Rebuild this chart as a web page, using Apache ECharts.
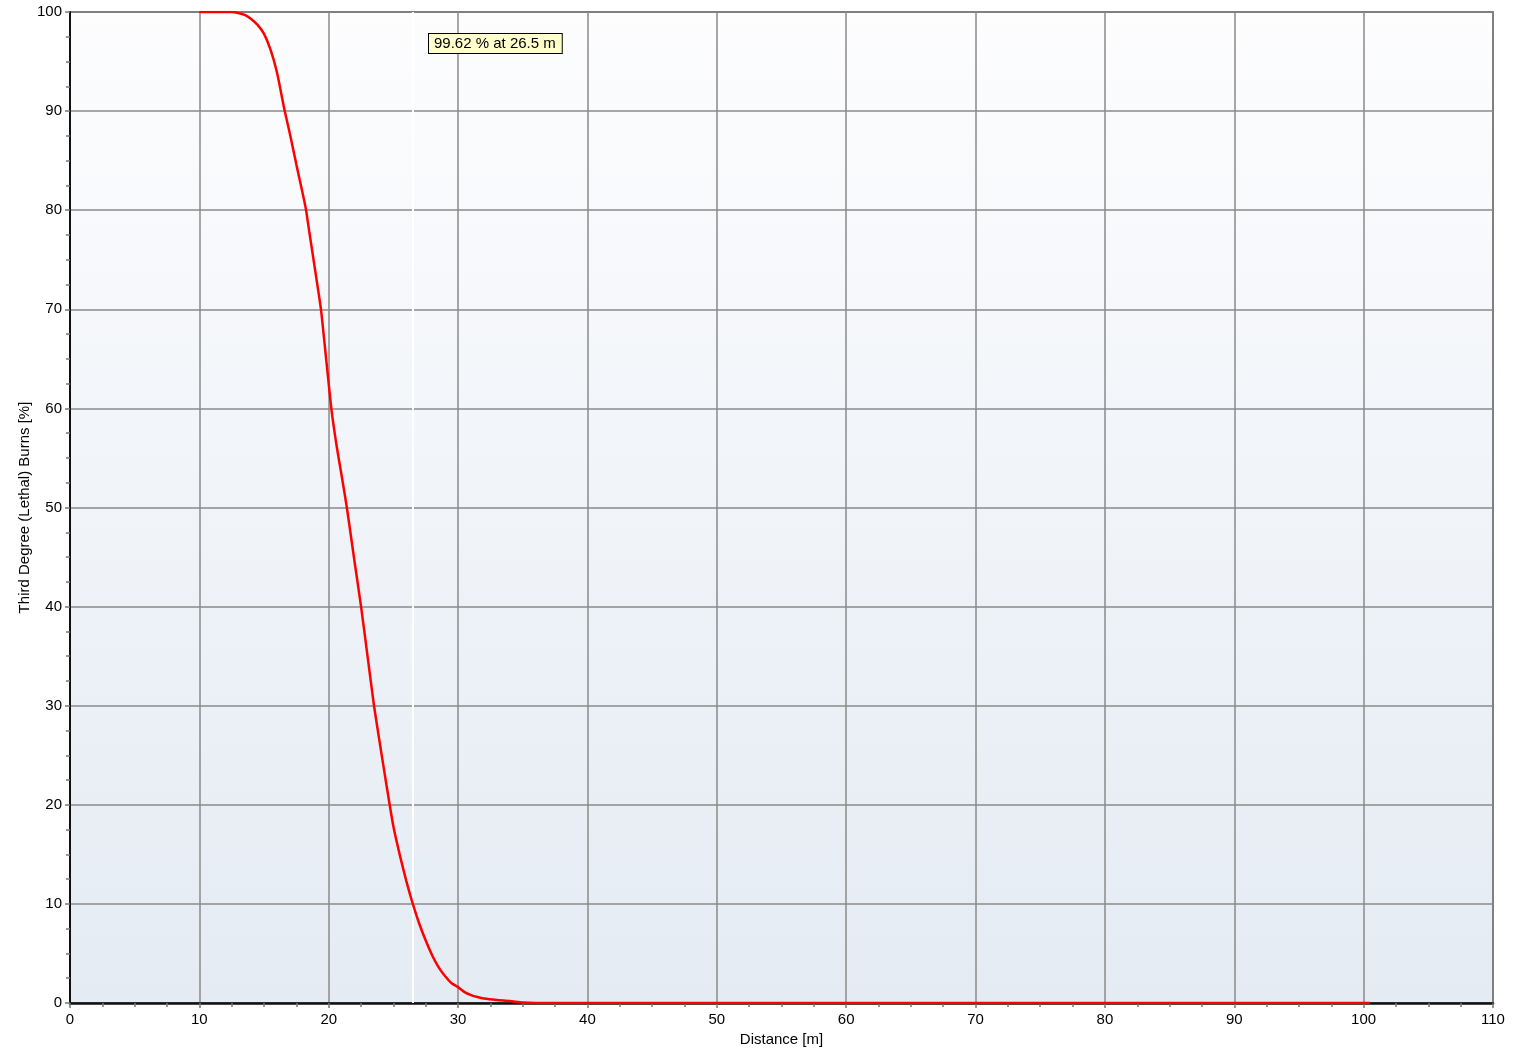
<!DOCTYPE html>
<html>
<head>
<meta charset="utf-8">
<script src="https://cdn.jsdelivr.net/npm/echarts@6/dist/echarts.min.js"></script>
<style>
  html, body { margin: 0; padding: 0; background: #fff; }
  #chart { width: 1514px; height: 1054px; }
</style>
</head>
<body>
<div id="chart"></div>
<script>
// distance [m] and lethal burn probability [%]
const distance = [
  10, 12, 12.5, 13, 13.5, 14, 14.5, 15, 15.5, 16, 16.6, 17, 17.5, 18, 18.25, 18.5, 19, 19.4,
  19.8, 20.2, 20.6, 21, 21.4, 22, 22.5, 23, 23.5, 24, 24.5, 25, 25.5, 26, 26.5, 27, 27.5,
  28, 28.5, 29, 29.5, 30, 30.5, 31, 31.5, 32, 33, 34, 35, 36, 40, 50, 60, 70, 80, 90, 100, 100.5,
]
const burns = [
  100, 100, 100, 99.9, 99.7, 99.3, 98.7, 97.8, 96.2, 93.9, 90, 87.7, 84.6, 81.6, 80, 77.8, 73.5, 70,
  65, 60, 56.3, 53.2, 50, 44.5, 40, 35, 30, 25.8, 21.7, 17.8, 14.9, 12.3, 10, 8, 6.3,
  4.8, 3.6, 2.7, 2.0, 1.6, 1.1, 0.8, 0.6, 0.45, 0.3, 0.2, 0.05, 0, 0, 0, 0, 0, 0, 0, 0, 0,
]
const markerDistance = 26.5
const markerText = '99.62 % at 26.5 m'

const chart = echarts.init(document.getElementById('chart'), null, { renderer: 'canvas' })

const axisFont = { color: '#000', fontSize: 15, fontFamily: 'Liberation Sans, Arial, sans-serif' }

chart.setOption({
  animation: false,
  backgroundColor: '#fff',
  grid: {
    left: 70,
    right: 21,
    top: 12,
    bottom: 51,
    show: true,
    borderColor: '#333',
    borderWidth: 1.5,
    backgroundColor: {
      type: 'linear', x: 0, y: 0, x2: 0, y2: 1,
      colorStops: [
        { offset: 0, color: '#fdfdfe' },
        { offset: 1, color: '#e4ebf3' },
      ],
    },
  },
  xAxis: {
    type: 'value',
    min: 0,
    max: 110,
    interval: 10,
    name: 'Distance [m]',
    nameLocation: 'middle',
    nameGap: 29,
    nameTextStyle: axisFont,
    axisLine: { onZero: false, lineStyle: { color: '#111', width: 2.5 } },
    axisTick: { length: 5, lineStyle: { color: '#777', width: 1.5 } },
    minorTick: { show: true, splitNumber: 4, length: 4, lineStyle: { color: '#777', width: 1.5 } },
    axisLabel: { ...axisFont, margin: 9 },
    splitLine: { lineStyle: { color: '#8a8a8a', width: 1.5 } },
  },
  yAxis: {
    type: 'value',
    min: 0,
    max: 100,
    interval: 10,
    name: 'Third Degree (Lethal) Burns [%]',
    nameLocation: 'middle',
    nameGap: 38,
    nameMoveOverlap: false,
    nameTextStyle: axisFont,
    axisLine: { show: true, onZero: false, lineStyle: { color: '#111', width: 2 } },
    axisTick: { show: true, length: 5, lineStyle: { color: '#777', width: 1.5 } },
    minorTick: { show: true, splitNumber: 4, length: 4, lineStyle: { color: '#777', width: 1.5 } },
    axisLabel: { ...axisFont, margin: 8 },
    splitLine: { lineStyle: { color: '#8a8a8a', width: 1.5 } },
  },
  graphic: [
    {
      type: 'text',
      left: 428,
      top: 33,
      z: 100,
      style: {
        text: markerText,
        fill: '#000',
        font: '15px Liberation Sans, Arial, sans-serif',
        backgroundColor: '#ffffcc',
        borderColor: '#000',
        borderWidth: 1,
        padding: [2, 6, 2, 5],
      },
    },
  ],
  series: [
    {
      type: 'line',
      data: distance.map((d, i) => [d, burns[i]]),
      showSymbol: false,
      smooth: 0.2,
      z: 5,
      lineStyle: { color: '#ff0000', width: 2.5 },
      markLine: {
        silent: true,
        symbol: 'none',
        label: { show: false },
        lineStyle: { color: '#ffffff', width: 2, type: 'solid' },
        z: 4,
        data: [{ xAxis: markerDistance }],
      },
    },
  ],
})
</script>
</body>
</html>
